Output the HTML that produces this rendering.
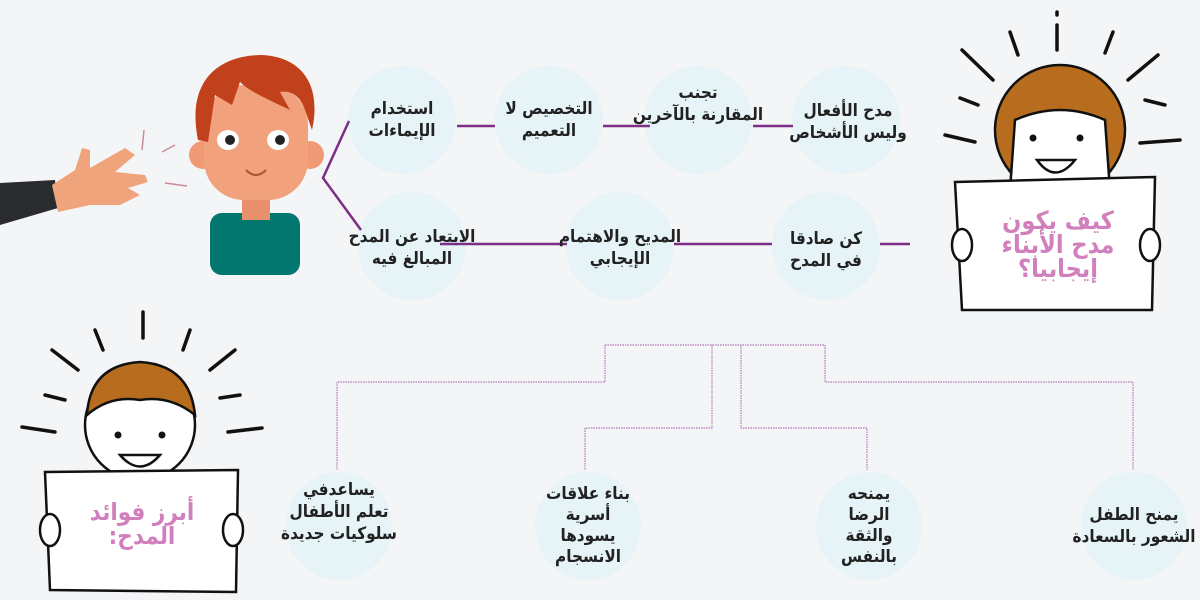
<!DOCTYPE html>
<html><head><meta charset="utf-8">
<style>
html,body{margin:0;padding:0}
body{width:1200px;height:600px;background:#f4f5f7;position:relative;overflow:hidden;font-family:"DejaVu Sans Condensed","DejaVu Sans",sans-serif}
svg{position:absolute;left:0;top:0}
.t{position:absolute;direction:rtl;text-align:center;font-weight:bold;color:#222;font-size:17px;line-height:22px;white-space:nowrap;transform:translate(-50%,-50%);letter-spacing:-0.3px}
.p{position:absolute;direction:rtl;text-align:center;font-weight:bold;color:#d17fbd;font-size:25px;line-height:24px;white-space:nowrap;transform:translate(-50%,-50%)}
</style></head><body>
<svg width="1200" height="600" viewBox="0 0 1200 600">
<g fill="#e6f4f8">
<circle cx="402" cy="120" r="54"/><circle cx="549" cy="120" r="54"/><circle cx="698" cy="120" r="54"/><circle cx="846" cy="120" r="54"/>
<circle cx="412" cy="246" r="54"/><circle cx="620" cy="246" r="54"/><circle cx="826" cy="246" r="54"/>
<ellipse cx="339" cy="526" rx="53" ry="54"/><ellipse cx="588" cy="526" rx="53" ry="54"/><ellipse cx="869" cy="526" rx="53" ry="54"/><ellipse cx="1134" cy="526" rx="53" ry="54"/>
</g>
<g stroke="#7b2f86" stroke-width="2.5" fill="none">
<line x1="457" y1="126" x2="495" y2="126"/><line x1="603" y1="126" x2="650" y2="126"/><line x1="753" y1="126" x2="793" y2="126"/>
<line x1="440" y1="244" x2="567" y2="244"/><line x1="674" y1="244" x2="772" y2="244"/><line x1="880" y1="244" x2="910" y2="244"/>
<polyline points="349,121 323,178 361,230"/>
</g>
<g stroke="#b27ab8" stroke-width="1.2" fill="none" stroke-dasharray="1.5 1">
<polyline points="605,345 825,345"/>
<polyline points="605,345 605,382 337,382 337,470"/>
<polyline points="712,345 712,428 585,428 585,470"/>
<polyline points="741,345 741,428 867,428 867,470"/>
<polyline points="825,345 825,382 1133,382 1133,470"/>
</g>
<polygon points="0,183 55,180 58,208 0,225" fill="#2a2b2f"/>
<path d="M52,185 L75,170 L82,148 L90,150 L90,168 L125,148 L135,155 L115,172 L145,175 L148,182 L128,188 L140,195 L120,205 L90,205 L58,212 Z" fill="#f0a47c"/>
<g stroke="#c98a9e" stroke-width="1.5"><line x1="144" y1="130" x2="142" y2="150"/><line x1="162" y1="152" x2="175" y2="145"/><line x1="165" y1="183" x2="187" y2="186"/></g>
<rect x="210" y="213" width="90" height="62" rx="12" fill="#047670"/>
<rect x="242" y="195" width="28" height="25" fill="#e8906c"/>
<circle cx="203" cy="155" r="14" fill="#ef9a74"/><circle cx="310" cy="155" r="14" fill="#ef9a74"/>
<rect x="204" y="85" width="104" height="115" rx="40" fill="#f1a17c"/>
<path d="M198,140 C185,75 225,55 262,55 C302,57 322,85 312,130 L305,110 C300,95 290,90 280,92 L290,110 C270,100 250,92 240,82 L232,105 L215,95 L208,142 Z" fill="#c1411c"/>
<ellipse cx="228" cy="140" rx="11" ry="10" fill="#fff"/><ellipse cx="278" cy="140" rx="11" ry="10" fill="#fff"/>
<circle cx="230" cy="140" r="5" fill="#222"/><circle cx="280" cy="140" r="5" fill="#222"/>
<path d="M246,170 Q256,180 266,170" stroke="#b0502e" stroke-width="2" fill="none"/>
<g stroke="#111" stroke-width="3.5" stroke-linecap="round">
<line x1="1057" y1="12" x2="1057" y2="15"/><line x1="1057" y1="25" x2="1057" y2="50"/>
<line x1="1010" y1="32" x2="1018" y2="55"/><line x1="1113" y1="32" x2="1105" y2="53"/>
<line x1="962" y1="50" x2="993" y2="80"/><line x1="1158" y1="55" x2="1128" y2="80"/>
<line x1="960" y1="98" x2="978" y2="105"/><line x1="1145" y1="100" x2="1165" y2="105"/>
<line x1="945" y1="135" x2="975" y2="142"/><line x1="1140" y1="143" x2="1180" y2="140"/>
</g>
<circle cx="1060" cy="130" r="65" fill="#b86d1e" stroke="#111" stroke-width="2.5"/>
<path d="M1015,120 Q1060,100 1105,120 L1110,190 L1010,190 Z" fill="#fff" stroke="#111" stroke-width="2.5"/>
<circle cx="1033" cy="138" r="3.5" fill="#111"/><circle cx="1080" cy="138" r="3.5" fill="#111"/>
<path d="M1037,160 Q1055,185 1075,160 Z" fill="#fff" stroke="#111" stroke-width="2.5"/>
<polygon points="955,182 1155,177 1152,310 962,310" fill="#fff" stroke="#111" stroke-width="2.5"/>
<ellipse cx="962" cy="245" rx="10" ry="16" fill="#fff" stroke="#111" stroke-width="2.5"/>
<ellipse cx="1150" cy="245" rx="10" ry="16" fill="#fff" stroke="#111" stroke-width="2.5"/>
<g stroke="#111" stroke-width="3.5" stroke-linecap="round">
<line x1="143" y1="312" x2="143" y2="338"/><line x1="95" y1="330" x2="103" y2="350"/><line x1="190" y1="330" x2="183" y2="350"/>
<line x1="52" y1="350" x2="78" y2="370"/><line x1="235" y1="350" x2="210" y2="370"/>
<line x1="45" y1="395" x2="65" y2="400"/><line x1="220" y1="398" x2="240" y2="395"/>
<line x1="22" y1="427" x2="55" y2="432"/><line x1="228" y1="432" x2="262" y2="428"/>
</g>
<circle cx="140" cy="425" r="55" fill="#fff" stroke="#111" stroke-width="2.5"/>
<path d="M87,415 Q90,365 140,362 Q190,365 195,415 Q170,395 140,400 Q110,395 87,415 Z" fill="#b86d1e" stroke="#111" stroke-width="2.5"/>
<circle cx="118" cy="435" r="3.5" fill="#111"/><circle cx="162" cy="435" r="3.5" fill="#111"/>
<path d="M120,455 Q140,478 160,455 Z" fill="#fff" stroke="#111" stroke-width="2.5"/>
<polygon points="45,472 238,470 236,592 50,590" fill="#fff" stroke="#111" stroke-width="2.5"/>
<ellipse cx="50" cy="530" rx="10" ry="16" fill="#fff" stroke="#111" stroke-width="2.5"/>
<ellipse cx="233" cy="530" rx="10" ry="16" fill="#fff" stroke="#111" stroke-width="2.5"/>
</svg>
<div class="t" style="left:402px;top:120px">استخدام<br>الإيماءات</div>
<div class="t" style="left:549px;top:120px">التخصيص لا<br>التعميم</div>
<div class="t" style="left:698px;top:104px">تجنب<br>المقارنة بالآخرين</div>
<div class="t" style="left:848px;top:122px">مدح الأفعال<br>وليس الأشخاص</div>
<div class="t" style="left:412px;top:248px">الابتعاد عن المدح<br>المبالغ فيه</div>
<div class="t" style="left:620px;top:248px">المديح والاهتمام<br>الإيجابي</div>
<div class="t" style="left:826px;top:250px">كن صادقا<br>في المدح</div>
<div class="t" style="left:339px;top:512px">يساعدفي<br>تعلم الأطفال<br>سلوكيات جديدة</div>
<div class="t" style="left:588px;top:526px;line-height:21px">بناء علاقات<br>أسرية<br>يسودها<br>الانسجام</div>
<div class="t" style="left:869px;top:526px;line-height:21px">يمنحه<br>الرضا<br>والثقة<br>بالنفس</div>
<div class="t" style="left:1134px;top:526px">يمنح الطفل<br>الشعور بالسعادة</div>
<div class="p" style="left:1058px;top:245px">كيف يكون<br>مدح الأبناء<br>إيجابيا؟</div>
<div class="p" style="left:142px;top:524px;font-size:24px">أبرز فوائد<br>المدح:</div>
</body></html>
